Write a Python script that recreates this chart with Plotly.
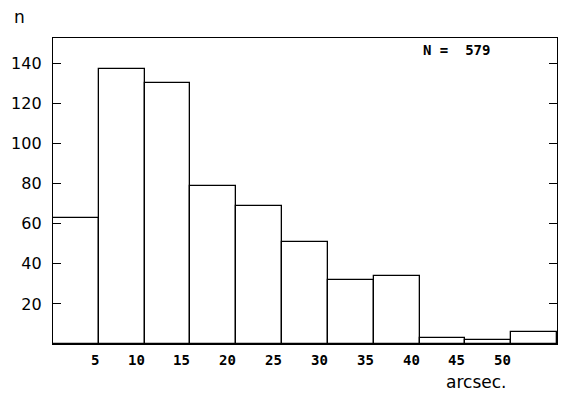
import plotly.graph_objects as go

bin_starts = [0, 5, 10, 15, 20, 25, 30, 35, 40, 45, 50]
counts = [63, 137, 130, 79, 69, 51, 32, 34, 3, 2, 6]
bin_width = 5
x_tick_vals = [5, 10, 15, 20, 25, 30, 35, 40, 45, 50]
x_tick_labels = ["5", "10", "15", "20", "25", "30", "35", "40", "45", "50"]
y_tick_vals = [20, 40, 60, 80, 100, 120, 140]
y_tick_labels = ["20", "40", "60", "80", "100", "120", "140"]
total_label = "N =  579"

fig = go.Figure()
fig.add_trace(go.Bar(
    x=[s + bin_width / 2 for s in bin_starts],
    y=counts,
    width=[bin_width] * len(bin_starts),
    marker=dict(color="white", line=dict(color="black", width=1.3)),
    hoverinfo="x+y",
))

annotations = []
for v, t in zip(x_tick_vals, x_tick_labels):
    annotations.append(dict(
        x=v, y=0, xref="x", yref="paper", text=t, showarrow=False,
        xanchor="right", yanchor="top", yshift=-6, xshift=2,
        font=dict(family="DejaVu Sans Mono", size=14, color="black", weight="bold"),
    ))
annotations += [
    dict(x=0.80, y=0.962, xref="paper", yref="paper", text=total_label, showarrow=False,
         xanchor="center", yanchor="middle",
         font=dict(family="DejaVu Sans Mono", size=14, color="black", weight="bold")),
    dict(x=0.84, y=-0.124, xref="paper", yref="paper", text="arcsec.", showarrow=False,
         xanchor="center", yanchor="middle",
         font=dict(family="DejaVu Sans", size=17, color="black")),
    dict(x=-0.066, y=1.07, xref="paper", yref="paper", text="n", showarrow=False,
         xanchor="center", yanchor="middle",
         font=dict(family="DejaVu Sans", size=17, color="black")),
]

fig.update_layout(
    width=570, height=400,
    margin=dict(l=45, r=21, t=30, b=64, autoexpand=False),
    plot_bgcolor="white", paper_bgcolor="white",
    showlegend=False,
    bargap=0,
    annotations=annotations,
    xaxis=dict(range=[0, 55], showgrid=False, zeroline=False, showline=True,
               linecolor="black", linewidth=1.3, mirror=True, automargin=False,
               showticklabels=False, ticks=""),
    yaxis=dict(range=[0, 152.6], showgrid=False, zeroline=False, showline=True,
               linecolor="black", linewidth=1.3, mirror="ticks", automargin=False,
               tickvals=y_tick_vals, ticktext=y_tick_labels,
               ticks="inside", ticklen=8, tickwidth=1.3, tickcolor="black",
               ticklabelstandoff=7,
               tickfont=dict(family="DejaVu Sans", size=16, color="black")),
)

fig.write_html("out.html")
